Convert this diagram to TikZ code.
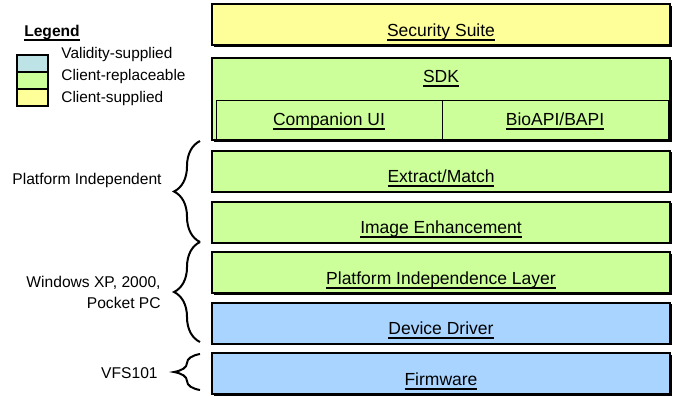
\documentclass[tikz,border=0pt]{standalone}
\usepackage{fontspec}
\setmainfont{Liberation Sans}
\usepackage{xcolor}
\usepackage{tikz}
\usetikzlibrary{decorations.pathreplacing, shadows}

\definecolor{layeryellow}{HTML}{FFFF99}
\definecolor{layergreen}{HTML}{CCFF99}
\definecolor{layerblue}{HTML}{A8D4FF}
\definecolor{legendcyan}{HTML}{BDE3E6}
\newcommand{\ulin}[1]{\setbox0\hbox{#1}\rlap{\rule[-2.3pt]{\wd0}{0.9pt}}\box0}

\begin{document}
\begin{tikzpicture}[x=0.5pt, y=-0.5pt,
    layer/.style={draw, line width=1pt, minimum width=229pt, minimum height=20.5pt, inner sep=0pt,
        text height=11.5pt, text depth=0pt, font=\fontsize{8.75}{10}\selectfont,
        drop shadow={shadow xshift=0.8pt, shadow yshift=-0.8pt, fill=black, opacity=1}},
    sublayer/.style={draw, line width=0.5pt, minimum width=113pt, minimum height=20pt, inner sep=0pt,
        text height=5pt, text depth=0pt, font=\fontsize{8.75}{10}\selectfont},
    swatch/.style={draw, line width=1pt, minimum width=15.5pt, minimum height=8.5pt, inner sep=0pt},
    side/.style={anchor=east, inner sep=0pt, align=right, font=\fontsize{7.8}{10.5}\selectfont},
    legendtext/.style={anchor=west, inner sep=0pt, font=\fontsize{7.7}{9}\selectfont},
    brace/.style={decorate, decoration={brace, amplitude=13pt}, line width=1pt}]
    \useasboundingbox (0,0) rectangle (679,396);

    % legend
    \node[inner sep=0pt, font=\fontsize{7.8}{9}\selectfont\bfseries] (legend) at (52,33) {\ulin{Legend}};
    \node[swatch, fill=legendcyan] (sw1) at (32.5,63.5) {};
    \node[swatch, fill=layergreen] (sw2) at (32.5,80.5) {};
    \node[swatch, fill=layeryellow] (sw3) at (32.5,97.5) {};
    \node[legendtext] (lt1) at (61,55) {Validity-supplied};
    \node[legendtext] (lt2) at (61,77) {Client-replaceable};
    \node[legendtext] (lt3) at (61,99) {Client-supplied};

    % layers
    \node[layer, fill=layeryellow] (security) at (441,24.5) {\ulin{Security Suite}};
    \node[layer, fill=layergreen, minimum height=41pt] (sdk) at (441,99) {};
    \node[inner sep=0pt, anchor=base, font=\fontsize{8.75}{10}\selectfont] (sdkname) at (441,82) {\ulin{SDK}};
    \node[sublayer] (companion) at (329,120) {\ulin{Companion UI}};
    \node[sublayer] (bioapi) at (555,120) {\ulin{BioAPI/BAPI}};
    \node[layer, fill=layergreen] (extract) at (441,171) {\ulin{Extract/Match}};
    \node[layer, fill=layergreen] (enhance) at (441,222) {\ulin{Image Enhancement}};
    \node[layer, fill=layergreen] (pil) at (441,272.5) {\ulin{Platform Independence Layer}};
    \node[layer, fill=layerblue] (driver) at (441,323) {\ulin{Device Driver}};
    \node[layer, fill=layerblue] (firmware) at (441,373.5) {\ulin{Firmware}};

    % braces
    \coordinate (b1top) at (200,141);
    \coordinate (b1bot) at (200,242);
    \coordinate (b2bot) at (200,342);
    \coordinate (b3top) at (200,354);
    \coordinate (b3bot) at (200,390);
    \draw[brace] (b1bot) -- (b1top);
    \draw[brace] (b2bot) -- (b1bot);
    \draw[brace] (b3bot) -- (b3top);

    \node[side] (indep) at (162,180) {Platform Independent};
    \node[side] (windows) at (161,292.5) {Windows XP, 2000,\\Pocket PC};
    \node[side] (vfs) at (158,373) {VFS101};
\end{tikzpicture}
\end{document}
